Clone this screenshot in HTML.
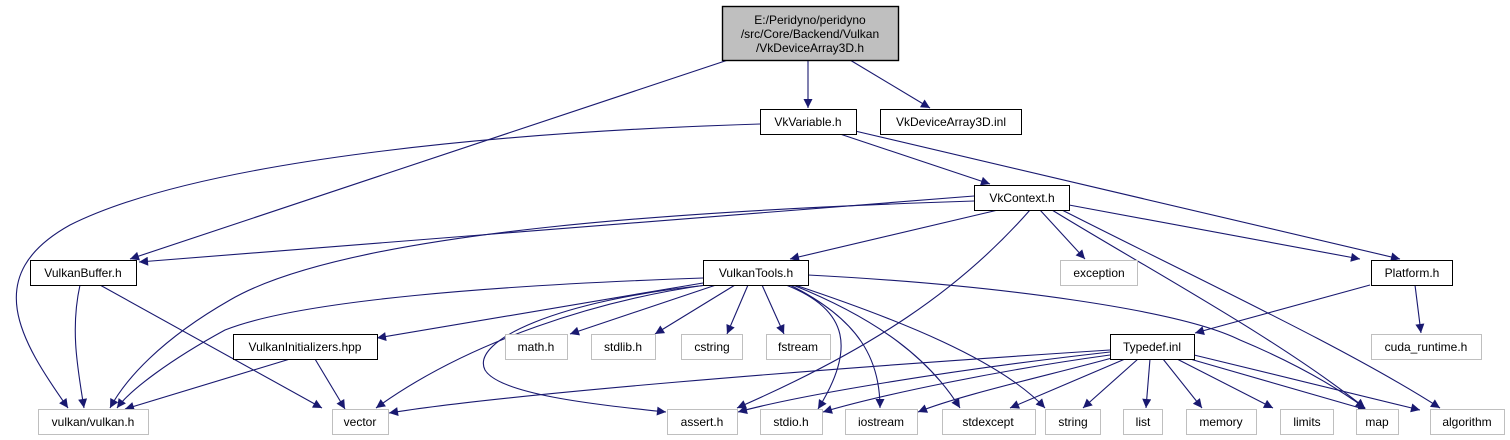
<!DOCTYPE html>
<html><head><meta charset="utf-8"><style>
html,body{margin:0;padding:0;background:#fff;width:1510px;height:440px;overflow:hidden}
svg text{font-family:"Liberation Sans",Arial,sans-serif;font-size:12px;fill:#000}
</style></head><body>
<svg width="1510" height="440" viewBox="0 0 1510 440" xmlns="http://www.w3.org/2000/svg">
<defs>
<marker id="a" viewBox="0 0 10 10" refX="10" refY="5" markerWidth="11" markerHeight="9" markerUnits="userSpaceOnUse" orient="auto">
<path d="M0,0 L10,5 L0,10 z" fill="#191970"/></marker>
</defs>
<g fill="none" stroke="#191970" stroke-width="1.1" marker-end="url(#a)">
<!-- root -->
<path d="M728,60 L130,259"/>
<path d="M808,60 L808,108"/>
<path d="M850,60 L930,108"/>
<!-- VkVariable -->
<path d="M760,124 C500,132 200,160 70,225 C-20,275 20,340 68,408"/>
<path d="M840,134 L990,184"/>
<path d="M855,131 L1400,259"/>
<!-- VkContext -->
<path d="M974,196 L139,262"/>
<path d="M974,201 C700,210 350,230 230,300 C160,340 125,380 110,408"/>
<path d="M998,210 L790,259"/>
<path d="M1030,210 C960,290 870,350 737,408"/>
<path d="M1040,210 L1085,259"/>
<path d="M1052,210 C1150,270 1280,340 1365,408"/>
<path d="M1062,210 C1200,280 1350,350 1440,408"/>
<path d="M1069,205 L1360,259"/>
<!-- Platform -->
<path d="M1370,285 L1195,333"/>
<path d="M1415,285 L1421,333"/>
<!-- VulkanBuffer -->
<path d="M80,285 C70,330 78,370 84,408"/>
<path d="M100,285 L322,408"/>
<!-- VulkanTools -->
<path d="M703,278 C500,285 300,300 225,330 C170,360 130,390 117,408"/>
<path d="M703,283 L377,338"/>
<path d="M706,285 C600,300 470,340 376,408"/>
<path d="M708,285 C560,300 470,340 485,370 C500,395 600,405 666,412"/>
<path d="M716,285 L570,334"/>
<path d="M735,285 L655,334"/>
<path d="M748,285 L727,334"/>
<path d="M762,285 L784,334"/>
<path d="M786,285 C850,310 855,350 818,409"/>
<path d="M790,285 C860,320 880,360 880,408"/>
<path d="M793,285 C880,320 930,360 960,408"/>
<path d="M795,285 C900,320 1000,360 1045,408"/>
<path d="M808,275 C1000,285 1180,310 1240,340 C1300,365 1340,390 1365,408"/>
<!-- VulkanInitializers -->
<path d="M290,359 L125,409"/>
<path d="M315,359 L345,409"/>
<!-- Typedef -->
<path d="M1110,350 C800,370 500,395 389,413"/>
<path d="M1110,352 C950,370 800,395 738,412"/>
<path d="M1110,355 C1000,370 880,395 823,412"/>
<path d="M1112,358 C1050,375 960,395 918,412"/>
<path d="M1125,359 L1010,408"/>
<path d="M1138,359 L1083,408"/>
<path d="M1150,359 L1146,408"/>
<path d="M1163,359 L1202,408"/>
<path d="M1177,359 L1273,408"/>
<path d="M1190,359 L1367,410"/>
<path d="M1194,355 L1420,410"/>
</g>
<g stroke-width="1">
<rect x="722.5" y="6.5" width="176" height="54" fill="#bfbfbf" stroke="#000" stroke-width="1.4"/>
<rect x="760.5" y="109.5" width="96" height="25" fill="#fff" stroke="#000"/>
<rect x="880.5" y="109.5" width="141" height="25" fill="#fff" stroke="#000"/>
<rect x="974.5" y="185.5" width="95" height="25" fill="#fff" stroke="#000"/>
<rect x="30.5" y="260.5" width="106" height="25" fill="#fff" stroke="#000"/>
<rect x="703.5" y="260.5" width="105" height="25" fill="#fff" stroke="#000"/>
<rect x="1060.5" y="260.5" width="77" height="25" fill="#fff" stroke="#bfbfbf"/>
<rect x="1371.5" y="260.5" width="81" height="25" fill="#fff" stroke="#000"/>
<rect x="233.5" y="334.5" width="144" height="25" fill="#fff" stroke="#000"/>
<rect x="505.5" y="334.5" width="62" height="25" fill="#fff" stroke="#bfbfbf"/>
<rect x="591.5" y="334.5" width="64" height="25" fill="#fff" stroke="#bfbfbf"/>
<rect x="681.5" y="334.5" width="61" height="25" fill="#fff" stroke="#bfbfbf"/>
<rect x="766.5" y="334.5" width="64" height="25" fill="#fff" stroke="#bfbfbf"/>
<rect x="1110.5" y="334.5" width="84" height="25" fill="#fff" stroke="#000"/>
<rect x="1371.5" y="334.5" width="110" height="25" fill="#fff" stroke="#bfbfbf"/>
<g fill="#fff" stroke="#bfbfbf">
<rect x="38.5" y="409.5" width="110" height="25"/>
<rect x="332.5" y="409.5" width="56" height="25"/>
<rect x="667.5" y="409.5" width="70" height="25"/>
<rect x="760.5" y="409.5" width="62" height="25"/>
<rect x="845.5" y="409.5" width="72" height="25"/>
<rect x="942.5" y="409.5" width="93" height="25"/>
<rect x="1045.5" y="409.5" width="55" height="25"/>
<rect x="1123.5" y="409.5" width="39" height="25"/>
<rect x="1186.5" y="409.5" width="70" height="25"/>
<rect x="1280.5" y="409.5" width="53" height="25"/>
<rect x="1356.5" y="409.5" width="42" height="25"/>
<rect x="1430.5" y="409.5" width="74" height="25"/>
</g>
</g>
<g text-anchor="middle">
<text x="810" y="24">E:/Peridyno/peridyno</text>
<text x="810" y="38">/src/Core/Backend/Vulkan</text>
<text x="810" y="52">/VkDeviceArray3D.h</text>
<text x="808" y="126">VkVariable.h</text>
<text x="951" y="126">VkDeviceArray3D.inl</text>
<text x="1022" y="202">VkContext.h</text>
<text x="83" y="277">VulkanBuffer.h</text>
<text x="756" y="277">VulkanTools.h</text>
<text x="1099" y="277">exception</text>
<text x="1412" y="277">Platform.h</text>
<text x="305" y="351">VulkanInitializers.hpp</text>
<text x="536" y="351">math.h</text>
<text x="623" y="351">stdlib.h</text>
<text x="712" y="351">cstring</text>
<text x="798" y="351">fstream</text>
<text x="1152" y="351">Typedef.inl</text>
<text x="1426" y="351">cuda_runtime.h</text>
<text x="93" y="426">vulkan/vulkan.h</text>
<text x="360" y="426">vector</text>
<text x="702" y="426">assert.h</text>
<text x="791" y="426">stdio.h</text>
<text x="881" y="426">iostream</text>
<text x="988" y="426">stdexcept</text>
<text x="1073" y="426">string</text>
<text x="1143" y="426">list</text>
<text x="1221" y="426">memory</text>
<text x="1307" y="426">limits</text>
<text x="1377" y="426">map</text>
<text x="1467" y="426">algorithm</text>
</g>
</svg>
</body></html>
